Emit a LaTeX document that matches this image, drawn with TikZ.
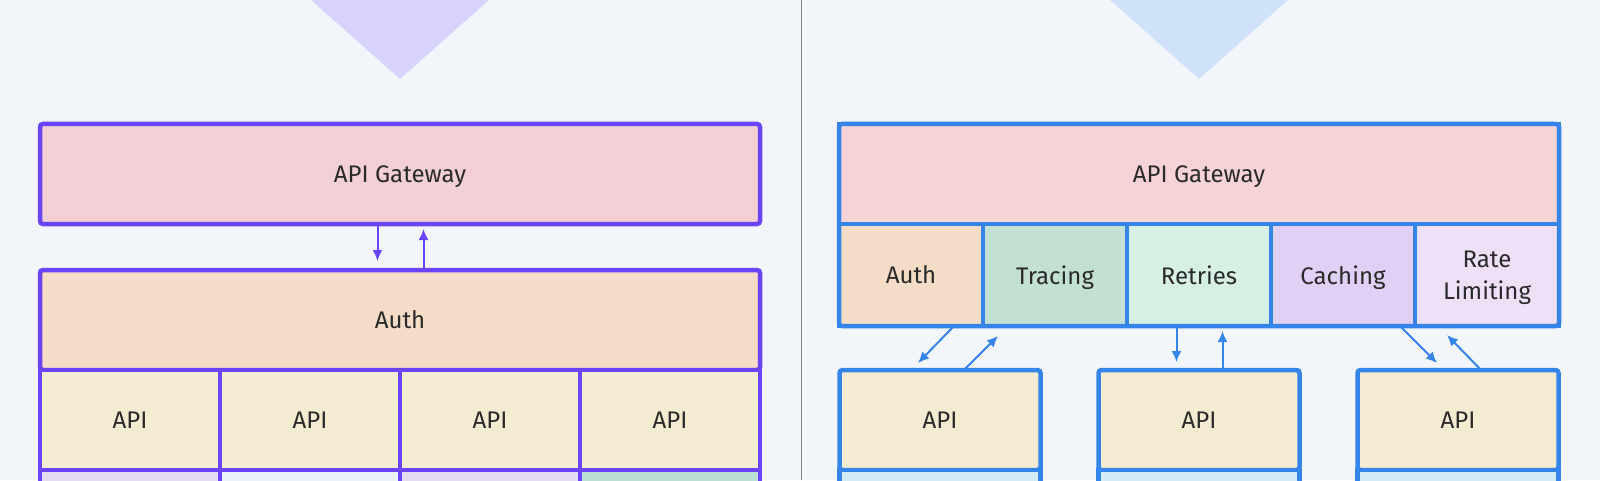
\documentclass[tikz,border=0pt]{standalone}
\usepackage{fontspec}
\setmainfont{Fira Sans}
\usepackage{tikz}
\usetikzlibrary{calc}
\usetikzlibrary{arrows.meta}
\usetikzlibrary{positioning}

\definecolor{bggray}{HTML}{F2F6FA}
\definecolor{purpleline}{HTML}{6A44F8}
\definecolor{blueline}{HTML}{3584EA}
\definecolor{tripurple}{HTML}{D8D3FC}
\definecolor{triblue}{HTML}{D0E2FA}
\definecolor{gwpink}{HTML}{F2D0D5}
\definecolor{gwpinkb}{HTML}{F5D3D6}
\definecolor{authpeach}{HTML}{F4DCC6}
\definecolor{apicream}{HTML}{F3ECD0}
\definecolor{lavender}{HTML}{E4DCF2}
\definecolor{paleblue}{HTML}{EAF3F8}
\definecolor{mint}{HTML}{BEE0D2}
\definecolor{tracegreen}{HTML}{C2E1D3}
\definecolor{retrygreen}{HTML}{D6F0E3}
\definecolor{cachepurple}{HTML}{E0D0F5}
\definecolor{ratepink}{HTML}{EEE0F6}
\definecolor{svccyan}{HTML}{D3EDF8}
\definecolor{labelgray}{HTML}{2A2A2A}

\tikzset{
  cell/.style={draw, rectangle, inner sep=0pt, outer sep=0pt, line width=4.5pt, text=labelgray,
    font=\fontsize{24}{32}\selectfont, align=center, text depth=-4pt},
  leftcell/.style={cell, draw=purpleline},
  rightcell/.style={cell, draw=blueline},
  leftarr/.style={purpleline, line width=2pt},
  rightarr/.style={blueline, line width=2pt},
}

\begin{document}
\begin{tikzpicture}[x=1pt, y=1pt, >={Latex[length=11pt,width=10pt]}]
\useasboundingbox (0,0) rectangle (1600,480);
\clip (0,0) rectangle (1600,480);
\fill[bggray] (0,0) rectangle (1600,480);
\draw[gray, line width=1pt] (801,0) -- (801,480);
\fill[tripurple] (311,480) -- (400,401) -- (489,480) -- cycle;
\fill[triblue] (1110,480) -- (1199,401) -- (1288,480) -- cycle;

\node[leftcell, name=gw_1, fill=gwpink, rounded corners=3pt, minimum width=720pt, minimum height=100pt] at (400,306) {API Gateway};
\node[leftcell, name=auth_1, fill=authpeach, rounded corners=3pt, minimum width=720pt, minimum height=100pt] at (400,160) {Auth};
\begin{scope}[node distance=180pt]
\node[leftcell, name=api_1, fill=apicream, minimum width=180pt, minimum height=100pt] at (130,60) {API};
\node[leftcell, name=api_2, fill=apicream, minimum width=180pt, minimum height=100pt, right of=api_1] {API};
\node[leftcell, name=api_3, fill=apicream, minimum width=180pt, minimum height=100pt, right of=api_2] {API};
\node[leftcell, name=api_4, fill=apicream, minimum width=180pt, minimum height=100pt, right of=api_3] {API};
\node[leftcell, name=svc_1, fill=lavender, minimum width=180pt, minimum height=100pt, below=0pt of api_1] {};
\node[leftcell, name=svc_2, fill=paleblue, minimum width=180pt, minimum height=100pt, below=0pt of api_2] {};
\node[leftcell, name=svc_3, fill=lavender, minimum width=180pt, minimum height=100pt, below=0pt of api_3] {};
\node[leftcell, name=svc_4, fill=mint, minimum width=180pt, minimum height=100pt, below=0pt of api_4] {};
\end{scope}

\coordinate (l_down) at (377.5,219);
\coordinate (l_up) at (423.5,251);
\draw[leftarr] (gw_1.south -| l_down) edge[->] (l_down);
\draw[leftarr] (auth_1.north -| l_up) edge[->] (l_up);

\node[rightcell, name=gw_2, fill=gwpinkb, minimum width=720pt, minimum height=100pt] at (1199,306) {API Gateway};
\begin{scope}[node distance=144pt]
\node[rightcell, name=mw_1, fill=authpeach, minimum width=144pt, minimum height=102pt] at (911,205) {Auth};
\node[rightcell, name=mw_2, fill=tracegreen, minimum width=144pt, minimum height=102pt, right of=mw_1] {Tracing};
\node[rightcell, name=mw_3, fill=retrygreen, minimum width=144pt, minimum height=102pt, right of=mw_2] {Retries};
\node[rightcell, name=mw_4, fill=cachepurple, minimum width=144pt, minimum height=102pt, right of=mw_3] {Caching};
\node[rightcell, name=mw_5, fill=ratepink, minimum width=144pt, minimum height=102pt, right of=mw_4, text depth=-8pt] {Rate\\Limiting};
\end{scope}
\draw[blueline, line width=4.5pt, rounded corners=3pt] (mw_1.south west) rectangle (gw_2.north east);

\begin{scope}[node distance=259pt]
\node[rightcell, name=rapi_1, fill=apicream, rounded corners=3pt, minimum width=201pt, minimum height=100pt] at (940,60) {API};
\node[rightcell, name=rapi_2, fill=apicream, rounded corners=3pt, minimum width=201pt, minimum height=100pt, right of=rapi_1] {API};
\node[rightcell, name=rapi_3, fill=apicream, rounded corners=3pt, minimum width=201pt, minimum height=100pt, right of=rapi_2] {API};
\node[rightcell, name=rsvc_1, fill=svccyan, minimum width=201pt, minimum height=100pt, below=0pt of rapi_1] {};
\node[rightcell, name=rsvc_2, fill=svccyan, minimum width=201pt, minimum height=100pt, below=0pt of rapi_2] {};
\node[rightcell, name=rsvc_3, fill=svccyan, minimum width=201pt, minimum height=100pt, below=0pt of rapi_3] {};
\end{scope}

\coordinate (a_down) at (918,117);
\coordinate (a_up) at (998,144);
\coordinate (m_down) at (1176.5,118);
\coordinate (m_up) at (1222.5,149);
\coordinate (r_down) at (1437,117);
\coordinate (r_up) at (1447,145);
\draw[rightarr] ($(mw_1.south)+(43,0)$) edge[->] (a_down);
\draw[rightarr] ($(rapi_1.north)+(24,0)$) edge[->] (a_up);
\draw[rightarr] (mw_3.south -| m_down) edge[->] (m_down);
\draw[rightarr] (rapi_2.north -| m_up) edge[->] (m_up);
\draw[rightarr] ($(mw_4.south)+(57,0)$) edge[->] (r_down);
\draw[rightarr] ($(rapi_3.north)+(23,0)$) edge[->] (r_up);
\end{tikzpicture}
\end{document}
